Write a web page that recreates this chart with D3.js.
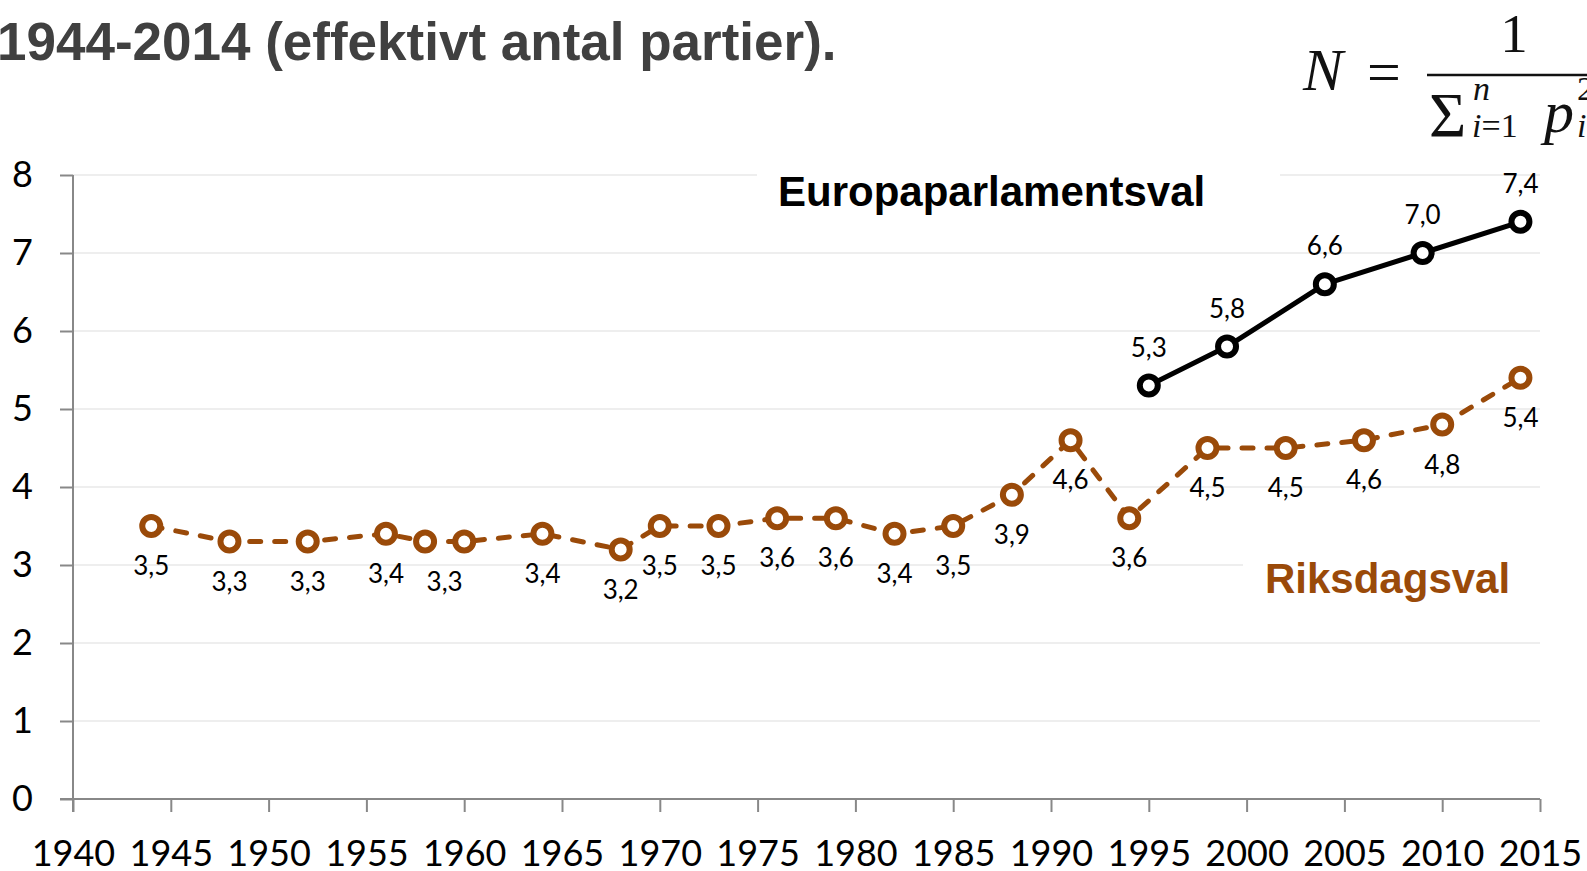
<!DOCTYPE html>
<html>
<head>
<meta charset="utf-8">
<script src="https://cdn.jsdelivr.net/npm/d3@7"></script>
<style>
  html, body { margin: 0; padding: 0; background: #fff; overflow: hidden; }
  svg { display: block; }
</style>
</head>
<body>
<svg id="chart" width="1587" height="871"></svg>
<script>
// riksdagsval (national elections)
var riksYears = [1944, 1948, 1952, 1956, 1958, 1960, 1964, 1968, 1970, 1973, 1976, 1979, 1982, 1985, 1988, 1991, 1994, 1998, 2002, 2006, 2010, 2014]
var riksValues = [3.5, 3.3, 3.3, 3.4, 3.3, 3.3, 3.4, 3.2, 3.5, 3.5, 3.6, 3.6, 3.4, 3.5, 3.9, 4.6, 3.6, 4.5, 4.5, 4.6, 4.8, 5.4]
// europaparlamentsval
var euYears = [1995, 1999, 2004, 2009, 2014]
var euValues = [5.3, 5.8, 6.6, 7.0, 7.4]
// axis ticks
var xTicks = [1940, 1945, 1950, 1955, 1960, 1965, 1970, 1975, 1980, 1985, 1990, 1995, 2000, 2005, 2010, 2015]
var yTicks = [0, 1, 2, 3, 4, 5, 6, 7, 8]

var titleText = '1944-2014 (effektivt antal partier).'
var euName = 'Europaparlamentsval'
var riksName = 'Riksdagsval'

var brown = '#9a4a09'
var axisColor = '#888888'
var fmt = function (v) { return d3.format('.1f')(v).replace('.', ',') }

var svg = d3.select('#chart')

// scales
var x = d3.scaleLinear().domain([1940, 2015]).range([73, 1540])
var y = d3.scaleLinear().domain([0, 8]).range([799, 175])

// title (top line is cut off in the source)
svg.append('text')
  .attr('x', -3).attr('y', 60)
  .attr('font-family', 'Liberation Sans, Arial, sans-serif')
  .attr('font-weight', 'bold')
  .attr('font-size', 53)
  .attr('fill', '#404040')
  .text(titleText)

// formula N = 1 / sum p_i^2
var f = svg.append('g').attr('font-family', 'Liberation Serif, Times New Roman, serif').attr('fill', '#111')
f.append('text').attr('x', 1303).attr('y', 90).attr('font-size', 60).attr('font-style', 'italic').text('N')
f.append('text').attr('x', 1367).attr('y', 92).attr('font-size', 60).text('=')
f.append('line').attr('x1', 1427).attr('x2', 1600).attr('y1', 75).attr('y2', 75).attr('stroke', '#111').attr('stroke-width', 2.5)
f.append('text').attr('x', 1514).attr('y', 52).attr('font-size', 55).attr('text-anchor', 'middle').text('1')
f.append('text').attr('x', 1429).attr('y', 137).attr('font-size', 64).text('\u03a3')
f.append('text').attr('x', 1473).attr('y', 100).attr('font-size', 34).attr('font-style', 'italic').text('n')
var sub = f.append('text').attr('x', 1472).attr('y', 137).attr('font-size', 34)
sub.append('tspan').attr('font-style', 'italic').text('i')
sub.append('tspan').text('=1')
f.append('text').attr('x', 1544).attr('y', 132).attr('font-size', 60).attr('font-style', 'italic').text('p')
f.append('text').attr('x', 1577).attr('y', 100).attr('font-size', 34).text('2')
f.append('text').attr('x', 1577).attr('y', 137).attr('font-size', 34).attr('font-style', 'italic').text('i')

// gridlines
svg.append('g')
  .selectAll('line')
  .data(yTicks.filter(function (d) { return d > 0 }))
  .enter().append('line')
  .attr('x1', x(1940)).attr('x2', x(2015))
  .attr('y1', function (d) { return y(d) }).attr('y2', function (d) { return y(d) })
  .attr('stroke', '#eeeeee')
  .attr('stroke-width', 2)

// label boxes that hide gridlines behind the series names
svg.append('rect').attr('x', 757).attr('y', 165).attr('width', 523).attr('height', 55).attr('fill', '#fff')
svg.append('rect').attr('x', 1243).attr('y', 550).attr('width', 300).attr('height', 55).attr('fill', '#fff')

// axes
var yAxis = svg.append('g')
  .attr('transform', 'translate(' + x(1940) + ',0)')
  .call(d3.axisLeft(y).tickValues(yTicks).tickSize(13).tickPadding(27).tickFormat(d3.format('d')))
var xAxis = svg.append('g')
  .attr('transform', 'translate(0,' + y(0) + ')')
  .call(d3.axisBottom(x).tickValues(xTicks).tickSize(13).tickPadding(28).tickFormat(d3.format('d')))

;[xAxis, yAxis].forEach(function (a) {
  a.select('.domain').attr('stroke', axisColor).attr('stroke-width', 2)
  a.selectAll('.tick line').attr('stroke', axisColor).attr('stroke-width', 2)
  a.selectAll('.tick text')
    .attr('fill', '#000')
    .attr('font-family', 'Lato, sans-serif')
    .attr('font-size', 36)
})
// outer ticks of d3 overlap the grid frame; redraw the domain flat
xAxis.select('.domain').attr('d', 'M' + (x(1940) - 13) + ',0H' + x(2015))
yAxis.select('.domain').attr('d', 'M0,' + y(8) + 'V' + (y(0) + 13))

// riksdagsval series
var riks = riksYears.map(function (yr, i) { return {x: yr, y: riksValues[i]} })
var line = d3.line().x(function (d) { return x(d.x) }).y(function (d) { return y(d.y) })

svg.append('path').datum(riks)
  .attr('fill', 'none')
  .attr('stroke', brown)
  .attr('stroke-width', 5)
  .attr('stroke-linecap', 'round')
  .attr('stroke-dasharray', '11,14')
  .attr('d', line)

svg.append('g').selectAll('circle')
  .data(riks).enter().append('circle')
  .attr('cx', function (d) { return x(d.x) })
  .attr('cy', function (d) { return y(d.y) })
  .attr('r', 9)
  .attr('fill', '#fff')
  .attr('stroke', brown)
  .attr('stroke-width', 6)

// labels below; 1958 and 1960 share one label between them
svg.append('g').selectAll('text')
  .data(riks.filter(function (d) { return d.x !== 1960 }))
  .enter().append('text')
  .attr('x', function (d) { return d.x === 1958 ? (x(1958) + x(1960)) / 2 : x(d.x) })
  .attr('y', function (d) { return y(d.y) + 40 })
  .attr('dy', '0.35em')
  .attr('text-anchor', 'middle')
  .attr('font-family', 'Lato, sans-serif')
  .attr('font-size', 26)
  .attr('fill', '#000')
  .text(function (d) { return fmt(d.y) })

// europaparlamentsval series
var eu = euYears.map(function (yr, i) { return {x: yr, y: euValues[i]} })

svg.append('path').datum(eu)
  .attr('fill', 'none')
  .attr('stroke', '#000')
  .attr('stroke-width', 5)
  .attr('stroke-linejoin', 'round')
  .attr('d', line)

svg.append('g').selectAll('circle')
  .data(eu).enter().append('circle')
  .attr('cx', function (d) { return x(d.x) })
  .attr('cy', function (d) { return y(d.y) })
  .attr('r', 9)
  .attr('fill', '#fff')
  .attr('stroke', '#000')
  .attr('stroke-width', 6)

svg.append('g').selectAll('text')
  .data(eu).enter().append('text')
  .attr('x', function (d) { return x(d.x) })
  .attr('y', function (d) { return y(d.y) - 38 })
  .attr('dy', '0.35em')
  .attr('text-anchor', 'middle')
  .attr('font-family', 'Lato, sans-serif')
  .attr('font-size', 26)
  .attr('fill', '#000')
  .text(function (d) { return fmt(d.y) })

// series names
svg.append('text')
  .attr('x', 778).attr('y', 206)
  .attr('font-family', 'Liberation Sans, Arial, sans-serif')
  .attr('font-weight', 'bold')
  .attr('font-size', 42)
  .attr('fill', '#000')
  .text(euName)

svg.append('text')
  .attr('x', 1265).attr('y', 593)
  .attr('font-family', 'Liberation Sans, Arial, sans-serif')
  .attr('font-weight', 'bold')
  .attr('font-size', 42)
  .attr('fill', brown)
  .text(riksName)
</script>
</body>
</html>
